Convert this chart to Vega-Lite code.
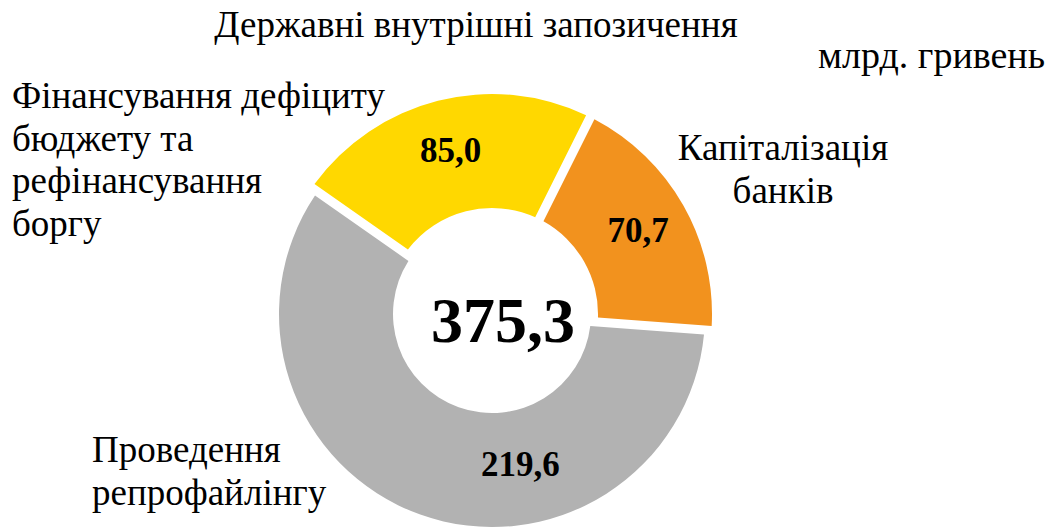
{
  "$schema": "https://vega.github.io/schema/vega-lite/v6.json",
  "width": 984,
  "height": 428,
  "autosize": {"type": "none"},
  "padding": {"left": 0, "top": 100, "right": 71, "bottom": 0},
  "background": "white",
  "title": {
    "text": "Державні внутрішні запозичення",
    "font": "Liberation Serif",
    "fontSize": 37,
    "fontWeight": "normal",
    "color": "black",
    "anchor": "middle",
    "frame": "group",
    "baseline": "alphabetic",
    "dx": -16,
    "offset": -36
  },
  "config": {
    "view": {"stroke": null},
    "locale": {"number": {"decimal": ",", "thousands": " ", "grouping": [3], "currency": ["", ""]}},
    "text": {"font": "Liberation Serif", "color": "black"}
  },
  "data": {
    "values": [
      {"category": "Фінансування дефіциту бюджету та рефінансування боргу", "label": "Фінансування дефіциту\nбюджету та\nрефінансування\nборгу", "value": 85.0, "rank": 1},
      {"category": "Капіталізація банків", "label": "Капіталізація\nбанків", "value": 70.7, "rank": 2},
      {"category": "Проведення репрофайлінгу", "label": "Проведення\nрепрофайлінгу", "value": 219.6, "rank": 3}
    ]
  },
  "layer": [
    {
      "mark": {"type": "arc", "innerRadius": 99, "outerRadius": 213, "padAngle": 0.038},
      "encoding": {
        "theta": {"field": "value", "type": "quantitative", "stack": true, "scale": {"range": [-0.9599, 5.3233]}},
        "order": {"field": "rank", "type": "quantitative"},
        "color": {
          "field": "category",
          "type": "nominal",
          "scale": {
            "domain": ["Фінансування дефіциту бюджету та рефінансування боргу", "Капіталізація банків", "Проведення репрофайлінгу"],
            "range": ["#FFD800", "#F2921E", "#B2B2B2"]
          },
          "legend": null
        },
        "opacity": {"condition": {"test": "datum.rank === 3", "value": 1}, "value": 0}
      }
    },
    {
      "mark": {"type": "arc", "innerRadius": 106, "outerRadius": 220, "padAngle": 0.038},
      "encoding": {
        "theta": {"field": "value", "type": "quantitative", "stack": true},
        "order": {"field": "rank", "type": "quantitative"},
        "color": {"field": "category", "type": "nominal", "legend": null},
        "opacity": {"condition": {"test": "datum.rank === 3", "value": 0}, "value": 1}
      }
    },
    {
      "mark": {"type": "text", "radius": 168, "fontSize": 35, "fontWeight": "bold", "baseline": "middle", "align": "center"},
      "encoding": {
        "theta": {"field": "value", "type": "quantitative", "stack": true},
        "order": {"field": "rank", "type": "quantitative"},
        "text": {"field": "value", "type": "quantitative", "format": ".1f"},
        "opacity": {"condition": {"test": "datum.rank === 3", "value": 0}, "value": 1}
      }
    },
    {
      "mark": {"type": "text", "radius": 168, "dx": 85, "dy": -7, "fontSize": 35, "fontWeight": "bold", "baseline": "middle", "align": "center"},
      "encoding": {
        "theta": {"field": "value", "type": "quantitative", "stack": true},
        "order": {"field": "rank", "type": "quantitative"},
        "text": {"field": "value", "type": "quantitative", "format": ".1f"},
        "opacity": {"condition": {"test": "datum.rank === 3", "value": 1}, "value": 0}
      }
    },
    {
      "transform": [{"filter": "datum.rank === 1"}],
      "mark": {"type": "text", "dx": -480, "dy": -206, "fontSize": 37, "lineHeight": 42.5, "lineBreak": "\n", "align": "left", "baseline": "alphabetic"},
      "encoding": {
        "text": {"field": "label", "type": "nominal"}
      }
    },
    {
      "transform": [{"filter": "datum.rank === 2"}],
      "mark": {"type": "text", "dx": 291, "dy": -154, "fontSize": 37, "lineHeight": 42.5, "lineBreak": "\n", "align": "center", "baseline": "alphabetic"},
      "encoding": {
        "text": {"field": "label", "type": "nominal"}
      }
    },
    {
      "transform": [{"filter": "datum.rank === 3"}],
      "mark": {"type": "text", "dx": -400, "dy": 148, "fontSize": 37, "lineHeight": 42.5, "lineBreak": "\n", "align": "left", "baseline": "alphabetic"},
      "encoding": {
        "text": {"field": "label", "type": "nominal"}
      }
    },
    {
      "mark": {"type": "text", "fontSize": 64, "fontWeight": "bold", "baseline": "middle", "align": "center", "dx": 11, "dy": 9},
      "encoding": {
        "text": {"aggregate": "sum", "field": "value", "type": "quantitative", "format": ".1f"}
      }
    },
    {
      "data": {"values": [{"unit": "млрд. гривень"}]},
      "mark": {"type": "text", "fontSize": 38, "align": "right", "baseline": "alphabetic", "dx": 553, "dy": -246},
      "encoding": {
        "text": {"field": "unit", "type": "nominal"}
      }
    }
  ]
}
